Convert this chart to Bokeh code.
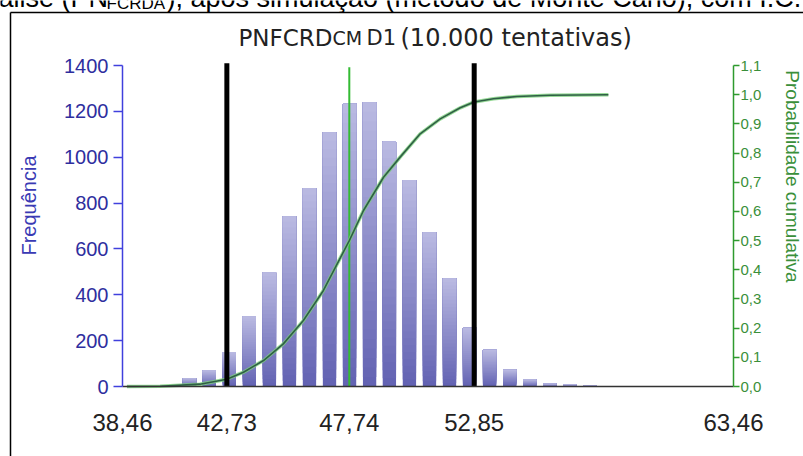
from math import pi

from bokeh.embed import file_html
from bokeh.models import FixedTicker, Label, LinearAxis, Range1d
from bokeh.plotting import figure
from bokeh.resources import INLINE

# --- histogram of the simulated values (bin centres and frequencies) ---
bin_centers = [40.38, 41.20, 42.01, 42.83, 43.65, 44.47, 45.29, 46.11, 46.93,
               47.75, 48.57, 49.38, 50.20, 51.02, 51.84, 52.66, 53.48, 54.30,
               55.12, 55.94, 56.76, 57.58]
frequencies = [5, 36, 70, 150, 306, 498, 743, 866, 1109, 1233, 1240, 1068,
               901, 673, 472, 256, 160, 73, 30, 12, 10, 3]
bin_width = 0.545

# --- cumulative probability curve ---
cdf_x = [38.64, 40.00, 41.63, 42.73, 43.41, 44.23, 45.04, 45.86, 46.68, 47.74,
         48.32, 49.14, 49.82, 50.64, 51.46, 52.28, 52.85, 53.64, 54.60, 55.96,
         58.34]
cdf_p = [0.0, 0.001, 0.008, 0.025, 0.049, 0.089, 0.146, 0.226, 0.329, 0.50,
         0.603, 0.717, 0.786, 0.866, 0.917, 0.955, 0.975, 0.986, 0.994, 0.998,
         1.0]

# --- confidence interval limits and central value ---
ci_low, ci_high = 42.73, 52.85
central_value = 47.74

# --- axis extents and ticks ---
x_min, x_max = 38.46, 63.46
freq_max, prob_max = 1400, 1.1
x_ticks = [38.46, 42.73, 47.74, 52.85, 63.46]
x_tick_labels = ["38,46", "42,73", "47,74", "52,85", "63,46"]
freq_ticks = [0, 200, 400, 600, 800, 1000, 1200, 1400]
prob_ticks = [0.0, 0.1, 0.2, 0.3, 0.4, 0.5, 0.6, 0.7, 0.8, 0.9, 1.0, 1.1]
prob_tick_labels = ["0,0", "0,1", "0,2", "0,3", "0,4", "0,5", "0,6", "0,7",
                    "0,8", "0,9", "1,0", "1,1"]

# --- page geometry: the plotting area covers the whole canvas and the
#     axes sit at fixed positions inside it ---
W, H = 803, 456
AX_L, AX_R, AX_T, AX_B = 122, 733, 65, 386   # pixel box spanned by the axes
kx = (x_max - x_min) / (AX_R - AX_L)
ky = freq_max / (AX_B - AX_T)


def sx(px):
    return x_min + (px - AX_L) * kx


def sy(py):
    return (AX_B - py) * ky


p = figure(width=W, height=H, output_backend="svg", toolbar_location=None,
           x_range=Range1d(sx(0), sx(W)), y_range=Range1d(sy(H), sy(0)),
           x_axis_location=None, y_axis_location=None,
           min_border=0, min_border_left=0, min_border_right=0,
           min_border_top=0, min_border_bottom=0)
p.extra_y_ranges = {"prob": Range1d(sy(H) * prob_max / freq_max,
                                    sy(0) * prob_max / freq_max)}
p.outline_line_color = None
p.background_fill_color = "white"
p.border_fill_color = "white"
for g in p.grid:
    g.visible = False

# box framing the chart (left and top edges; the others run off the page)
p.segment(x0=[sx(10), sx(10)], y0=[sy(12), sy(12)],
          x1=[sx(10), sx(W + 20)], y1=[sy(H + 20), sy(12)],
          line_color="black", line_width=1.5)

# bars, shaded from dark at the base to light at the top
n_slices = 30
dark = (98, 98, 178)
light = (186, 186, 226)
lefts, rights, bottoms, tops, colors = [], [], [], [], []
for c, f in zip(bin_centers, frequencies):
    for j in range(n_slices):
        t = (j + 0.5) / n_slices
        col = tuple(int(round(dark[k] + (light[k] - dark[k]) * t)) for k in range(3))
        lefts.append(c - bin_width / 2)
        rights.append(c + bin_width / 2)
        bottoms.append(f * j / n_slices)
        tops.append(f)
        colors.append("#%02x%02x%02x" % col)
p.quad(left=lefts, right=rights, bottom=bottoms, top=tops,
       fill_color=colors, line_color=None)

# central value marker
p.segment(x0=[central_value], y0=[0], x1=[central_value], y1=[1392],
          line_color="#33bb33", line_width=2)

# cumulative curve (halo + core)
p.line(cdf_x, cdf_p, y_range_name="prob", line_color="#7cd07c",
       line_width=3.5, line_alpha=0.8)
p.line(cdf_x, cdf_p, y_range_name="prob", line_color="#2f5f45",
       line_width=1.6)

# confidence interval limits
p.segment(x0=[ci_low, ci_high], y0=[0, 0], x1=[ci_low, ci_high],
          y1=[1410, 1410], line_color="black", line_width=5)

# x axis
xa = LinearAxis(fixed_location=0, bounds=(x_min, x_max),
                ticker=FixedTicker(ticks=x_ticks))
xa.major_label_overrides = dict(zip(x_ticks, x_tick_labels))
xa.major_tick_line_color = None
xa.major_tick_out = 0
xa.major_tick_in = 0
xa.minor_tick_line_color = None
xa.axis_line_color = "#333333"
xa.axis_line_width = 1.5
xa.major_label_standoff = 27
xa.major_label_text_font = "Liberation Sans"
xa.major_label_text_font_size = "24px"
xa.major_label_text_color = "#222222"
p.add_layout(xa, "below")

# left frequency axis
ya = LinearAxis(fixed_location=x_min, bounds=(0, freq_max),
                ticker=FixedTicker(ticks=freq_ticks))
ya.axis_line_color = "#4040dd"
ya.axis_line_width = 1.5
ya.major_tick_line_color = "#4040dd"
ya.major_tick_line_width = 1.5
ya.major_tick_out = 9
ya.major_tick_in = 0
ya.minor_tick_line_color = None
ya.major_label_standoff = 5
ya.major_label_text_font = "Liberation Sans"
ya.major_label_text_font_size = "20px"
ya.major_label_text_color = "#2e2e9e"
p.add_layout(ya, "left")

# right cumulative probability axis
ra = LinearAxis(y_range_name="prob", fixed_location=x_max,
                bounds=(0, prob_max), ticker=FixedTicker(ticks=prob_ticks))
ra.major_label_overrides = dict(zip(prob_ticks, prob_tick_labels))
ra.axis_line_color = "#2e9a2e"
ra.axis_line_width = 1.5
ra.major_tick_line_color = "#2e9a2e"
ra.major_tick_line_width = 1.5
ra.major_tick_out = 6
ra.major_tick_in = 0
ra.minor_tick_line_color = None
ra.major_label_standoff = 1
ra.major_label_text_font = "Liberation Sans"
ra.major_label_text_font_size = "15px"
ra.major_label_text_color = "#3a8f3a"
p.add_layout(ra, "right")

# axis titles
p.add_layout(Label(x=sx(28), y=sy(205), text="Frequência", angle=pi / 2,
                   text_align="center", text_baseline="middle",
                   text_font="Liberation Sans", text_font_size="20px",
                   text_color="#3a3ab4"))
p.add_layout(Label(x=sx(792), y=sy(176), text="Probabilidade cumulativa",
                   angle=-pi / 2, text_align="center", text_baseline="middle",
                   text_font="Liberation Sans", text_font_size="19px",
                   text_color="#3a8f3a"))

# chart title: "PNFCRD" + small "CM" + " D1 (10.000 tentativas)"
title_font = "DejaVu Sans"
ty = sy(37)
for px, txt, size in [(238, "PNFCRD", "23px"), (332, "CM", "19px"),
                      (366, "D1", "21px"), (400, "(10.000 tentativas)", "24px")]:
    p.add_layout(Label(x=sx(px), y=ty, text=txt, text_align="left",
                       text_baseline="alphabetic", text_font=title_font,
                       text_font_size=size, text_color="#222222"))

# caption line running above the chart box
cap_font = "Liberation Sans"
p.add_layout(Label(x=sx(-2), y=sy(-3), text="álise (PN", text_align="left",
                   text_baseline="alphabetic", text_font=cap_font,
                   text_font_size="27px", text_color="black"))
p.add_layout(Label(x=sx(106), y=sy(3.2), text="FCRDA", text_align="left",
                   text_baseline="alphabetic", text_font=cap_font,
                   text_font_size="17px", text_color="black"))
p.add_layout(Label(x=sx(166), y=sy(-3),
                   text="), após simulação (método de Monte Carlo), com I.C.",
                   text_align="left", text_baseline="alphabetic",
                   text_font=cap_font, text_font_size="27px",
                   text_color="black"))

open("out.html", "w").write(file_html(p, INLINE))
